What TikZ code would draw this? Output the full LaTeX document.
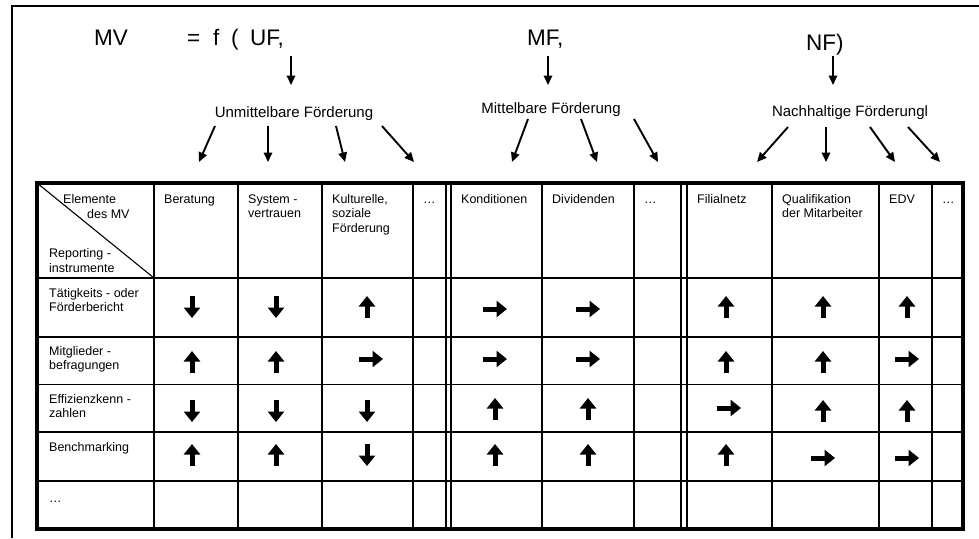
\documentclass[tikz,border=0pt]{standalone}
\usepackage{fontspec}
\setmainfont{Liberation Sans}
\usetikzlibrary{arrows.meta}
\newcommand\UpA[3]{\draw[cellarr] (#2,#3+11) coordinate (#1s) -- (#2,#3-11) coordinate (#1e);}
\newcommand\DnA[3]{\draw[cellarr] (#2,#3-11) coordinate (#1s) -- (#2,#3+11) coordinate (#1e);}
\newcommand\RtA[3]{\draw[cellarr] (#2-12,#3) coordinate (#1s) -- (#2+12,#3) coordinate (#1e);}
\begin{document}
\begin{tikzpicture}[x=1pt,y=-1pt,
  txt/.style={inner sep=0pt, anchor=base west, font=\fontsize{12.5}{14}\selectfont},
  lbl/.style={inner sep=0pt, anchor=base, font=\fontsize{15}{18}\selectfont},
  ttl/.style={inner sep=0pt, anchor=base west, font=\fontsize{22.5}{26}\selectfont},
  fan/.style={line width=1.9pt, -{Triangle[length=9.5pt,width=8.5pt]}},
  cellarr/.style={line width=5pt, -{Triangle[length=10.5pt,width=16pt]}},
  gridline/.style={line width=1.5pt},
  thinline/.style={line width=1.1pt},
  outer/.style={line width=3.5pt},
  framelines/.style={line width=1.3pt}]
\useasboundingbox (0,0) rectangle (979,538);
\fill[white] (0,0) rectangle (979,538);
% outer frame (top and left)
\draw[framelines] (12,538) -- (12,6) -- (979,6);

% title
\node[ttl] (mv) at (94,45) {MV};
\node[ttl] (eq) at (187,45) {=};
\node[ttl] (ff) at (213,45) {f};
\node[ttl] (lp) at (231,45) {(};
\node[ttl] (uf) at (250,45) {UF,};
\node[ttl] (mf) at (527,45) {MF,};
\node[ttl] (nf) at (806,50) {NF)};

% labels
\node[lbl] (unm) at (294,117) {Unmittelbare Förderung};
\node[lbl] (mit) at (551,113) {Mittelbare Förderung};
\node[lbl] (nach) at (850,116) {Nachhaltige Förderungl};

% title arrows
\coordinate (ufa) at (291,56); \coordinate (ufb) at (291,85);
\coordinate (mfa) at (548,56); \coordinate (mfb) at (548,85);
\coordinate (nfa) at (833,56); \coordinate (nfb) at (833,85);
\draw[fan] (ufa) -- (ufb);
\draw[fan] (mfa) -- (mfb);
\draw[fan] (nfa) -- (nfb);

% fan arrows UF
\coordinate (u1a) at (215,126); \coordinate (u1b) at (199,162);
\coordinate (u2a) at (268,126); \coordinate (u2b) at (268,162);
\coordinate (u3a) at (336,126); \coordinate (u3b) at (345,162);
\coordinate (u4a) at (382,126); \coordinate (u4b) at (414,162);
\foreach \i in {1,...,4} {\draw[fan] (u\i a) -- (u\i b);}
% fan arrows MF
\coordinate (m1a) at (528,119); \coordinate (m1b) at (512,162);
\coordinate (m2a) at (581,119); \coordinate (m2b) at (597,162);
\coordinate (m3a) at (634,119); \coordinate (m3b) at (658,162);
\foreach \i in {1,...,3} {\draw[fan] (m\i a) -- (m\i b);}
% fan arrows NF
\coordinate (n1a) at (788,127); \coordinate (n1b) at (757,162);
\coordinate (n2a) at (826,127); \coordinate (n2b) at (826,162);
\coordinate (n3a) at (870,127); \coordinate (n3b) at (895,162);
\coordinate (n4a) at (908,127); \coordinate (n4b) at (940,162);
\foreach \i in {1,...,4} {\draw[fan] (n\i a) -- (n\i b);}

% table grid
\foreach \y in {278,337,384.5,432,481} {\draw[gridline] (37,\y) -- (963,\y);}
\foreach \x in {154,238,322,413,542,772,879} {\draw[gridline] (\x,183) -- (\x,529);}
\foreach \x in {446,451,634,681,687,932} {\draw[thinline] (\x,183) -- (\x,529);}
\draw[thinline] (37,183) -- (154,278);
\draw[outer] (37,183) rectangle (963,529);

% header texts
\node[txt] (h0a) at (63,203) {Elemente};
\node[txt] (h0b) at (87,218) {des MV};
\node[txt] (h0c) at (49,257) {Reporting -};
\node[txt] (h0d) at (49,272) {instrumente};
\node[txt] (h1) at (164,203) {Beratung};
\node[txt] (h2a) at (248,203) {System -};
\node[txt] (h2b) at (248,217.5) {vertrauen};
\node[txt] (h3a) at (332,203) {Kulturelle,};
\node[txt] (h3b) at (332,217.5) {soziale};
\node[txt] (h3c) at (332,232) {Förderung};
\node[txt] (h4) at (423,203) {…};
\node[txt] (h5) at (461,203) {Konditionen};
\node[txt] (h6) at (552,203) {Dividenden};
\node[txt] (h7) at (644,203) {…};
\node[txt] (h8) at (697,203) {Filialnetz};
\node[txt] (h9a) at (782,203) {Qualifikation};
\node[txt] (h9b) at (782,217.5) {der Mitarbeiter};
\node[txt] (h10) at (889,203) {EDV};
\node[txt] (h11) at (942,203) {…};

% row labels
\node[txt] (r1a) at (49,297) {Tätigkeits - oder};
\node[txt] (r1b) at (49,311.5) {Förderbericht};
\node[txt] (r2a) at (49,355) {Mitglieder -};
\node[txt] (r2b) at (49,369.5) {befragungen};
\node[txt] (r3a) at (49,403) {Effizienzkenn -};
\node[txt] (r3b) at (49,417.5) {zahlen};
\node[txt] (r4a) at (49,451) {Benchmarking};
\node[txt] (r5a) at (49,502) {…};

% cell arrows row 1
\DnA{a11}{192}{307} \DnA{a12}{276}{307} \UpA{a13}{367}{307}
\RtA{a14}{495}{309} \RtA{a15}{588}{309}
\UpA{a16}{726}{307} \UpA{a17}{823}{307} \UpA{a18}{907}{307}
% row 2
\UpA{a21}{192}{362} \UpA{a22}{276}{362} \RtA{a23}{371}{359}
\RtA{a24}{495}{359} \RtA{a25}{588}{359}
\UpA{a26}{726}{362} \UpA{a27}{823}{362} \RtA{a28}{907}{359}
% row 3
\DnA{a31}{192}{411} \DnA{a32}{276}{411} \DnA{a33}{367}{411}
\UpA{a34}{495}{409} \UpA{a35}{588}{409}
\RtA{a36}{729}{408} \UpA{a37}{823}{411} \UpA{a38}{907}{411}
% row 4
\UpA{a41}{192}{455} \UpA{a42}{276}{455} \DnA{a43}{367}{455}
\UpA{a44}{495}{455} \UpA{a45}{588}{455}
\UpA{a46}{726}{455} \RtA{a47}{823}{458} \RtA{a48}{907}{458}
\end{tikzpicture}
\end{document}
